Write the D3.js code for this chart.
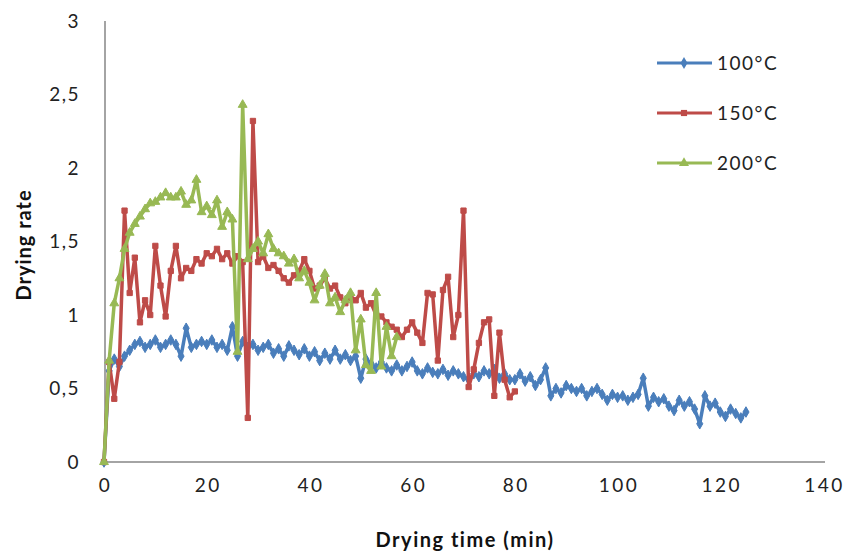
<!DOCTYPE html>
<html><head><meta charset="utf-8">
<script src="https://cdn.jsdelivr.net/npm/d3@7"></script>
<style>body{margin:0;background:#fff}svg{display:block}text{font-family:Lato,"Open Sans",sans-serif}</style>
</head><body>
<svg id="c" width="848" height="553"></svg>
<script>
const xTicks = [0,20,40,60,80,100,120,140];
const yTicks = [0,0.5,1,1.5,2,2.5,3];
const seriesNames = ["100°C","150°C","200°C"];
const seriesColors = ["#4a7ebb","#be4b48","#98b954"];
const t100 = d3.range(0,126);
const v100 = [0,0.62,0.7,0.65,0.72,0.76,0.8,0.82,0.78,0.8,0.83,0.78,0.8,0.83,0.8,0.72,0.91,0.78,0.8,0.82,
0.8,0.83,0.78,0.8,0.76,0.92,0.72,0.82,0.78,0.8,0.76,0.78,0.8,0.74,0.77,0.72,0.79,0.76,0.73,0.77,
0.72,0.75,0.69,0.74,0.7,0.76,0.7,0.73,0.69,0.72,0.57,0.7,0.67,0.64,0.68,0.64,0.62,0.66,0.62,0.65,
0.68,0.62,0.6,0.64,0.61,0.6,0.63,0.59,0.62,0.6,0.58,0.56,0.6,0.58,0.62,0.6,0.63,0.57,0.6,0.56,
0.56,0.6,0.55,0.58,0.52,0.56,0.64,0.45,0.5,0.47,0.52,0.5,0.48,0.5,0.45,0.48,0.5,0.46,0.42,0.46,
0.44,0.45,0.42,0.44,0.46,0.57,0.38,0.44,0.41,0.43,0.38,0.35,0.42,0.38,0.41,0.36,0.26,0.45,0.38,0.4,
0.34,0.31,0.36,0.33,0.3,0.34];
const t150 = d3.range(0,81);
const v150 = [0,0.68,0.43,0.68,1.71,1.15,1.39,0.95,1.1,1.0,1.47,1.2,0.99,1.3,1.47,1.25,1.32,1.3,1.38,1.35,
1.42,1.4,1.45,1.38,1.42,1.35,1.4,1.36,0.3,2.32,1.36,1.4,1.32,1.34,1.3,1.25,1.22,1.27,1.3,1.38,
1.3,1.18,1.2,1.25,1.18,1.2,1.12,1.08,1.12,1.1,1.15,1.05,1.08,1.0,0.99,0.95,0.92,0.9,0.85,0.9,
0.95,0.88,0.81,1.15,1.14,0.69,1.17,1.26,0.85,1.0,1.71,0.51,0.63,0.81,0.95,0.97,0.45,0.88,0.56,0.44,0.48];
const t200 = d3.range(0,58);
const v200 = [0,0.69,1.08,1.25,1.45,1.56,1.62,1.67,1.72,1.76,1.77,1.8,1.83,1.8,1.8,1.84,1.75,1.78,1.92,1.7,
1.74,1.68,1.78,1.6,1.7,1.65,0.75,2.43,1.38,1.45,1.5,1.42,1.55,1.45,1.42,1.4,1.35,1.38,1.25,1.3,
1.22,1.1,1.2,1.28,1.08,1.12,1.02,1.1,1.15,0.76,0.97,0.66,0.62,1.15,0.65,0.92,0.72,0.85];

const svg = d3.select("#c");
const x = d3.scaleLinear().domain([0,140]).range([104,823]);
const y = d3.scaleLinear().domain([0,3]).range([462,21]);
const axisCol = "#868686";

svg.append("line").attr("x1",105).attr("x2",105).attr("y1",y(3)).attr("y2",y(0)).attr("stroke",axisCol).attr("stroke-width",1.5);
svg.append("line").attr("x1",105).attr("x2",825).attr("y1",y(0)).attr("y2",y(0)).attr("stroke",axisCol).attr("stroke-width",1.5);

const fmt = d => String(d).replace(".",",");
const yAxis = d3.axisLeft(y).tickValues(yTicks).tickFormat(fmt).tickSize(0).tickPadding(0);
const gy = svg.append("g").attr("transform","translate(80,0)").call(yAxis);
gy.select(".domain").remove();
gy.selectAll("text").attr("font-size",19).attr("letter-spacing","1.5px").attr("fill","#222").attr("font-family","Lato, sans-serif");

const xAxis = d3.axisBottom(x).tickValues(xTicks).tickSize(0).tickPadding(0);
const gx = svg.append("g").attr("transform","translate(1,478)").call(xAxis);
gx.select(".domain").remove();
gx.selectAll("text").attr("font-size",19).attr("letter-spacing","2.5px").attr("fill","#222").attr("font-family","Lato, sans-serif");

svg.append("text").attr("x",465).attr("y",547).attr("text-anchor","middle")
  .attr("font-size",20).attr("letter-spacing","1.5px").attr("font-weight","bold").attr("fill","#111").text("Drying time (min)");
svg.append("text").attr("transform","translate(31,245) rotate(-90)").attr("text-anchor","middle")
  .attr("font-size",20).attr("letter-spacing","1px").attr("font-weight","bold").attr("fill","#111").text("Drying rate");

const data = [
  {t:t100, v:v100},
  {t:t150, v:v150},
  {t:t200, v:v200}
];
const line = d3.line().x(d=>x(d[0])).y(d=>y(d[1]));
const symbols = [d3.symbolDiamond, d3.symbolSquare, d3.symbolTriangle];
const sizes = [32, 28, 34];

data.forEach((s,i)=>{
  const pts = s.t.map((t,j)=>[t,s.v[j]]);
  const g = svg.append("g");
  g.append("path").datum(pts).attr("d",line).attr("fill","none")
    .attr("stroke",seriesColors[i]).attr("stroke-width",3.5).attr("stroke-linejoin","round");
  g.selectAll("path.m").data(pts).join("path").attr("class","m")
    .attr("transform",d=>`translate(${x(d[0])},${y(d[1])})`)
    .attr("d",d3.symbol().type(symbols[i]).size(sizes[i]))
    .attr("fill",seriesColors[i]).attr("stroke",seriesColors[i]).attr("stroke-width",1);
});

const legY = [63,113,163];
seriesNames.forEach((n,i)=>{
  const g = svg.append("g");
  g.append("line").attr("x1",657).attr("x2",712).attr("y1",legY[i]).attr("y2",legY[i])
    .attr("stroke",seriesColors[i]).attr("stroke-width",3);
  g.append("path").attr("transform",`translate(684,${legY[i]})`)
    .attr("d",d3.symbol().type(symbols[i]).size(sizes[i]+10)).attr("fill",seriesColors[i]);
  g.append("text").attr("x",717).attr("y",legY[i]).attr("dy","0.35em")
    .attr("font-size",19).attr("letter-spacing","1.5px").attr("fill","#222").text(n);
});
</script>
</body></html>
